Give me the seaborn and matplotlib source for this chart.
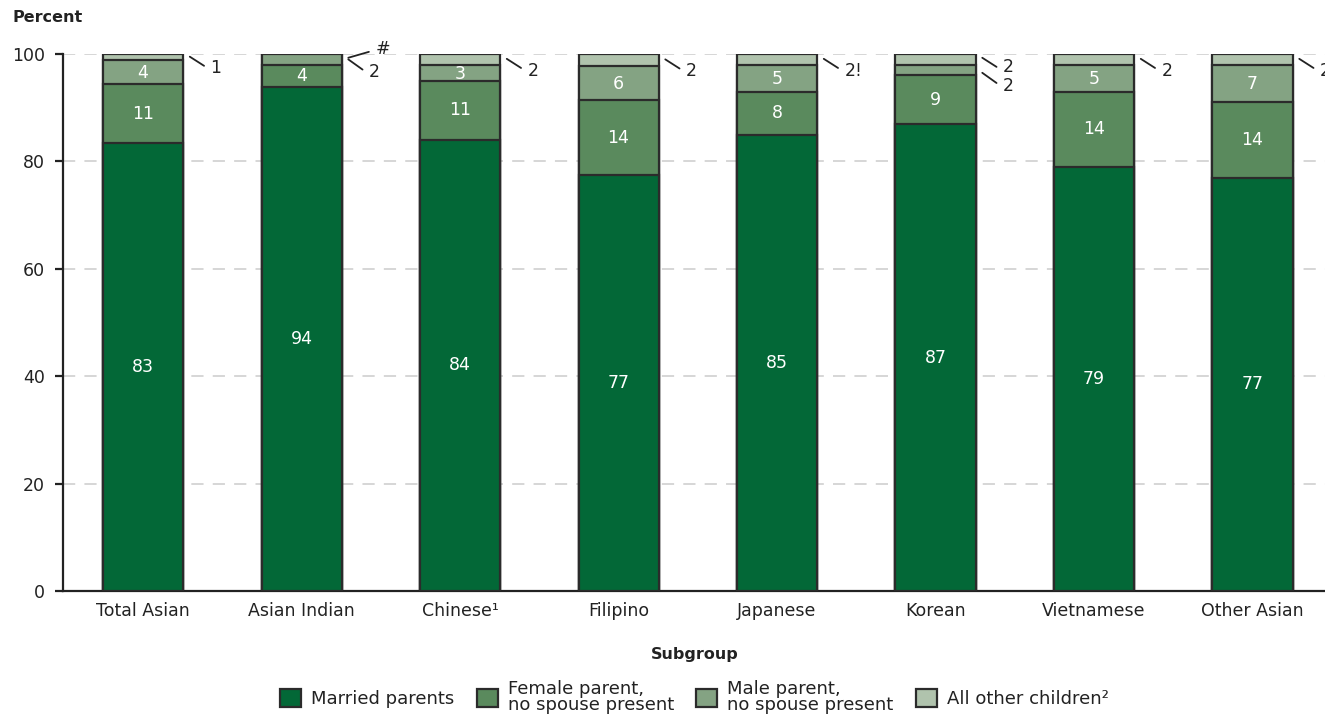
import matplotlib
matplotlib.use("Agg")
import matplotlib.pyplot as plt
import seaborn as sns
import numpy as np
import pandas as pd
from matplotlib.patches import Patch

sns.set_style("white")
plt.rcParams['font.family'] = ['DejaVu Sans']

# ---- data ----
subgroups = ["Total Asian", "Asian Indian", "Chinese\u00b9", "Filipino",
             "Japanese", "Korean", "Vietnamese", "Other Asian"]
married = [83.4, 93.9, 84.0, 77.4, 85.0, 86.9, 79.0, 77.0]
female = [11.0, 4.0, 11.0, 14.0, 8.0, 9.1, 14.0, 14.0]
male = [4.4, 2.1, 3.0, 6.4, 5.0, 2.0, 5.0, 7.0]
other = [1.2, 0.0, 2.0, 2.2, 2.0, 2.0, 2.0, 2.0]
other_labels = ["1", "#", "2", "2", "2!", "2", "2", "2"]
male_labels = ["4", "2", "3", "6", "5", "2", "5", "7"]
series_names = ["Married parents", "Female parent,\nno spouse present",
                "Male parent,\nno spouse present", "All other children\u00b2"]
colors = ["#036837", "#5a8a5d", "#84a383", "#b0c3ad"]
edge = "#2b2b2b"

married = np.array(married)
female = np.array(female)
male = np.array(male)
other = np.array(other)

c1 = married
c2 = married + female
c3 = c2 + male
c4 = c3 + other

W, H = 1325, 719
fig = plt.figure(figsize=(W / 100, H / 100), dpi=100)
ax_left, ax_right = 63, 143 + 7.5 * 158.5
ax_bottom, ax_top = 591, 54
ax = fig.add_axes([ax_left / W, (H - ax_bottom) / H,
                   (ax_right - ax_left) / W, (ax_bottom - ax_top) / H])

df = pd.DataFrame({"sub": subgroups, "c1": c1, "c2": c2, "c3": c3, "c4": c4})
for col, colr in zip(["c4", "c3", "c2", "c1"], colors[::-1]):
    sns.barplot(data=df, x="sub", y=col, color=colr, saturation=1,
                width=0.505, edgecolor=edge, linewidth=1.6, errorbar=None,
                ax=ax, zorder=3)

ax.set_xlim(-0.505, 7.5)
ax.set_ylim(0, 100)
ax.set_yticks([0, 20, 40, 60, 80, 100])
ax.yaxis.grid(True, color="#cccccc", linestyle=(0, (8, 6)), linewidth=1.1, zorder=0)
ax.set_axisbelow(True)
for s in ["top", "right"]:
    ax.spines[s].set_visible(False)
for s in ["left", "bottom"]:
    ax.spines[s].set_color("#222222")
    ax.spines[s].set_linewidth(1.6)

fs = 12.5
ax.tick_params(axis="y", length=6, width=1.6, color="#222222", pad=7,
               labelsize=fs, labelcolor="#222222", left=True)
ax.tick_params(axis="x", length=0, pad=8, labelsize=fs, labelcolor="#222222")
ax.set_xlabel("")
ax.set_ylabel("")

xs = np.arange(len(subgroups))
for i in xs:
    ax.text(i, married[i] / 2, f"{married[i]:.0f}", color="white", ha="center",
            va="center", fontsize=fs, zorder=5)
    ax.text(i, married[i] + female[i] / 2, f"{female[i]:.0f}", color="white",
            ha="center", va="center", fontsize=fs, zorder=5)
    if male[i] >= 2.9:
        ax.text(i, c2[i] + male[i] / 2 - 0.15, male_labels[i], color="white",
                ha="center", va="center", fontsize=fs, zorder=5)

# leader-line labels
def leader(i, y0, dy, label, up=False, x1off=0.385, toff=None):
    x0 = i + 0.295
    x1 = i + x1off
    y1 = y0 + dy if up else y0 - dy
    if toff is None:
        toff = 0.5 if up else -0.5
    ax.plot([x0, x1], [y0, y1], color="#222222", lw=1.3, clip_on=False, zorder=6)
    ax.text(x1 + 0.04, y1 + toff, label, ha="left", va="center",
            fontsize=fs, color="#222222", clip_on=False, zorder=6)

for i in xs:
    if i == 1:
        leader(i, 99.3, 1.1, other_labels[i], up=True, x1off=0.425)
        leader(i, 99.0, 1.9, male_labels[i])
    elif i == 5:
        leader(i, 99.3, 1.7, other_labels[i], toff=-0.05)
        leader(i, 96.5, 1.9, male_labels[i], toff=-0.6)
    else:
        leader(i, c3[i] + other[i] / 2 + 0.1, 1.7, other_labels[i])

fig.text(12 / W, 1 - 18 / H, "Percent", fontsize=11.5, fontweight="bold",
         color="#222222", ha="left", va="center")
fig.text(695 / W, 1 - 654 / H, "Subgroup", fontsize=11.5, fontweight="bold",
         color="#222222", ha="center", va="center")

handles = [Patch(facecolor=c, edgecolor=edge, linewidth=1.6) for c in colors]
leg = fig.legend(handles, series_names, loc="center", ncol=4,
                 bbox_to_anchor=(694.5 / W, 1 - 697 / H), frameon=False,
                 fontsize=13, handlelength=1.15, handleheight=1.15,
                 handletextpad=0.55, columnspacing=1.25, labelspacing=0.2)
for t in leg.get_texts():
    t.set_color("#222222")
    t.set_linespacing(0.9)

fig.savefig("out.png", dpi=100)
